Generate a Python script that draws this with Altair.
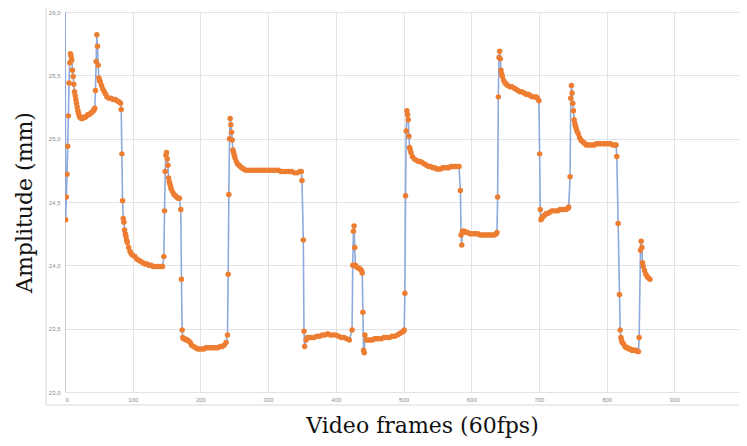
import altair as alt
import pandas as pd

frames = [0, 1, 2, 3, 4, 5, 6, 7, 8, 9, 10, 11, 12, 13, 14, 15, 16, 17, 18, 19, 20, 21, 22, 24, 26, 28, 30, 32, 34, 36, 38, 40, 42, 43, 44,
          45, 46, 47, 48, 49, 50, 51, 52, 54, 56, 58, 60, 62, 65, 68, 71, 74, 77, 80, 82, 83,
          84, 85, 86, 87, 88, 89, 90, 91, 92, 94, 96, 98, 100, 103, 106, 109, 112, 115, 118, 121, 124, 127, 130, 133, 136, 139, 142, 144,
          146, 147, 148, 149, 150, 151, 152, 153, 154, 155, 156, 157, 159, 161, 163, 165, 167, 169, 171,
          172, 173, 174, 175, 177, 179, 181, 183, 185, 187, 190, 193, 196, 199, 202, 205, 208, 211, 214, 217, 220, 223, 226, 229, 232, 235, 238, 240,
          241, 242, 243, 244, 245, 246, 247, 248, 249, 250, 251, 253, 255, 257, 259, 261, 264, 267, 271, 275, 279, 283, 287, 291, 295, 299, 303, 307, 311, 315, 319, 323, 327, 331, 335, 339, 343, 347, 349,
          350, 352, 353, 354, 356, 358, 361, 364, 368, 372, 376, 380, 384, 388, 392, 396, 400, 404, 408, 412, 416, 420,
          424, 425, 426, 427, 428, 429, 430, 432, 434, 436, 438, 439, 440, 441, 442, 443, 445, 448, 451, 454, 457, 460, 463, 467, 471, 475, 479, 483, 487, 491, 494, 497, 500, 501,
          502, 503, 504, 505, 506, 507, 508, 509, 510, 511, 513, 516, 519, 522, 525, 528, 531, 534, 537, 540, 543, 546, 549, 552, 555, 558, 561, 564, 567, 570, 573, 576, 579, 582,
          584, 585, 586, 587, 588, 590, 592, 595, 598, 601, 604, 607, 610, 613, 616, 619, 622, 625, 628, 631, 634, 637, 638,
          639, 640, 641, 642, 643, 644, 645, 646, 648, 650, 652, 654, 657, 660, 663, 666, 669, 672, 675, 678, 681, 684, 687, 690, 693, 696, 698, 700,
          701, 702, 703, 704, 705, 707, 709, 711, 713, 716, 719, 722, 725, 728, 731, 734, 737, 740, 743, 744,
          746, 747, 748, 749, 750, 751, 752, 753, 754, 755, 756, 758, 760, 762, 764, 766, 768, 770, 773, 776, 779, 782, 785, 788, 791, 794, 797, 800, 803, 806, 809, 812, 814,
          815, 817, 819, 820, 821, 822, 823, 825, 827, 829, 831, 833, 835, 837, 839, 841, 843, 845, 847,
          848, 850, 851, 852, 853, 854, 856, 858, 860, 862, 864]

amplitude_mm = [26.30, 24.36, 24.54, 24.72, 24.94, 25.18, 25.44, 25.60, 25.67, 25.65, 25.62, 25.54, 25.49, 25.43, 25.37, 25.34, 25.31, 25.28, 25.25, 25.22, 25.20, 25.18, 25.17, 25.16, 25.16, 25.17, 25.17, 25.18, 25.19, 25.19, 25.20, 25.21, 25.22, 25.23, 25.24,
                25.38, 25.61, 25.82, 25.73, 25.58, 25.48, 25.46, 25.45, 25.42, 25.39, 25.37, 25.35, 25.33, 25.32, 25.32, 25.31, 25.31, 25.30, 25.29, 25.28, 25.23,
                24.88, 24.51, 24.37, 24.34, 24.28, 24.25, 24.23, 24.20, 24.18, 24.14, 24.11, 24.09, 24.08, 24.07, 24.05, 24.04, 24.03, 24.02, 24.01, 24.01, 24.00, 24.00, 23.99, 23.99, 23.99, 23.99, 23.99, 23.99,
                24.07, 24.43, 24.74, 24.87, 24.89, 24.84, 24.79, 24.69, 24.66, 24.64, 24.62, 24.60, 24.58, 24.56, 24.55, 24.54, 24.53, 24.53, 24.44,
                23.89, 23.49, 23.43, 23.42, 23.42, 23.41, 23.41, 23.40, 23.39, 23.37, 23.36, 23.35, 23.34, 23.34, 23.34, 23.34, 23.35, 23.35, 23.35, 23.35, 23.35, 23.35, 23.35, 23.36, 23.36, 23.37, 23.39, 23.45,
                23.93, 24.56, 25.00, 25.16, 25.11, 25.05, 24.99, 24.91, 24.89, 24.87, 24.85, 24.82, 24.80, 24.79, 24.78, 24.77, 24.76, 24.75, 24.75, 24.75, 24.75, 24.75, 24.75, 24.75, 24.75, 24.75, 24.75, 24.75, 24.75, 24.75, 24.74, 24.74, 24.74, 24.74, 24.74, 24.73, 24.73, 24.74, 24.74,
                24.67, 24.20, 23.48, 23.36, 23.41, 23.43, 23.43, 23.43, 23.43, 23.44, 23.44, 23.45, 23.45, 23.46, 23.45, 23.45, 23.45, 23.44, 23.43, 23.43, 23.42, 23.41,
                23.49, 24.00, 24.27, 24.31, 24.14, 24.00, 23.99, 23.98, 23.98, 23.97, 23.96, 23.94, 23.63, 23.33, 23.31, 23.45, 23.41, 23.41, 23.41, 23.41, 23.42, 23.42, 23.42, 23.42, 23.43, 23.43, 23.43, 23.44, 23.44, 23.45, 23.46, 23.47, 23.48, 23.49,
                23.78, 24.55, 25.06, 25.22, 25.19, 25.15, 25.02, 24.93, 24.91, 24.89, 24.86, 24.84, 24.83, 24.82, 24.82, 24.81, 24.80, 24.79, 24.78, 24.78, 24.77, 24.77, 24.76, 24.76, 24.76, 24.77, 24.77, 24.77, 24.77, 24.78, 24.78, 24.78, 24.78, 24.78,
                24.59, 24.24, 24.16, 24.27, 24.27, 24.27, 24.26, 24.26, 24.25, 24.25, 24.25, 24.25, 24.25, 24.24, 24.24, 24.24, 24.24, 24.24, 24.24, 24.24, 24.24, 24.25, 24.26,
                24.54, 25.33, 25.64, 25.69, 25.63, 25.54, 25.51, 25.49, 25.46, 25.44, 25.43, 25.42, 25.41, 25.41, 25.40, 25.39, 25.38, 25.37, 25.37, 25.36, 25.35, 25.35, 25.34, 25.33, 25.33, 25.33, 25.32, 25.30,
                24.88, 24.44, 24.36, 24.37, 24.38, 24.39, 24.40, 24.41, 24.41, 24.42, 24.43, 24.43, 24.43, 24.43, 24.44, 24.44, 24.44, 24.44, 24.45, 24.46,
                24.70, 25.32, 25.42, 25.36, 25.28, 25.22, 25.15, 25.12, 25.10, 25.08, 25.06, 25.04, 25.01, 24.99, 24.98, 24.97, 24.96, 24.95, 24.95, 24.95, 24.95, 24.95, 24.96, 24.96, 24.96, 24.96, 24.96, 24.96, 24.96, 24.96, 24.95, 24.95, 24.95,
                24.86, 24.33, 23.77, 23.49, 23.43, 23.41, 23.39, 23.38, 23.36, 23.35, 23.35, 23.34, 23.34, 23.33, 23.33, 23.33, 23.33, 23.32, 23.32,
                23.43, 24.12, 24.19, 24.14, 24.02, 23.99, 23.96, 23.93, 23.91, 23.90, 23.89]

x_ticks = [0, 100, 200, 300, 400, 500, 600, 700, 800, 900]
y_ticks = [23, 23.5, 24, 24.5, 25, 25.5, 26]

df = pd.DataFrame({"frame": frames, "amp": amplitude_mm})

x_enc = alt.X(
    "frame:Q",
    scale=alt.Scale(domain=[0, 995.5], nice=False),
    axis=alt.Axis(
        values=x_ticks, title="Video frames (60fps)", grid=True, gridColor="#e3e3e3",
        domain=False, ticks=False, labelFontSize=6, labelColor="#8c8c8c", labelPadding=4,
        titleFont="DejaVu Serif", titleFontSize=22, titleFontWeight="normal", titleColor="#111111",
        titlePadding=13, titleX=357,
    ),
)
y_enc = alt.Y(
    "amp:Q",
    scale=alt.Scale(domain=[23, 26], nice=False, zero=False),
    axis=alt.Axis(
        values=y_ticks, title="Amplitude (mm)", grid=True, gridColor="#e3e3e3",
        domain=True, domainColor="#d0d0d0", ticks=False, labelFontSize=6, labelColor="#8c8c8c",
        labelPadding=5, labelExpr="replace(datum.label, '.', ',')",
        titleFont="DejaVu Serif", titleFontSize=22, titleFontWeight="normal", titleColor="#111111",
        titlePadding=12,
    ),
)

border = alt.Chart(pd.DataFrame({"a": [0]})).mark_rect(
    fill=None, stroke="#d9d9d9", strokeWidth=1, clip=False
).encode(x=alt.value(-19), x2=alt.value(700), y=alt.value(-30), y2=alt.value(393))

line = alt.Chart(df).mark_line(color="#8eaadc", strokeWidth=1.6, clip=True).encode(x=x_enc, y=y_enc)
pts = alt.Chart(df).mark_circle(color="#ed7d31", size=30, opacity=1, clip=True).encode(x=x_enc, y=y_enc)

chart = alt.layer(border, line, pts).properties(
    width=674,
    height=380,
    autosize=alt.AutoSizeParams(type="none"),
    padding={"left": 57, "top": 4, "right": 0, "bottom": 46},
    background="white",
).configure_view(stroke=None)

chart.save("out.html", embed_options={"renderer": "svg", "actions": False})
